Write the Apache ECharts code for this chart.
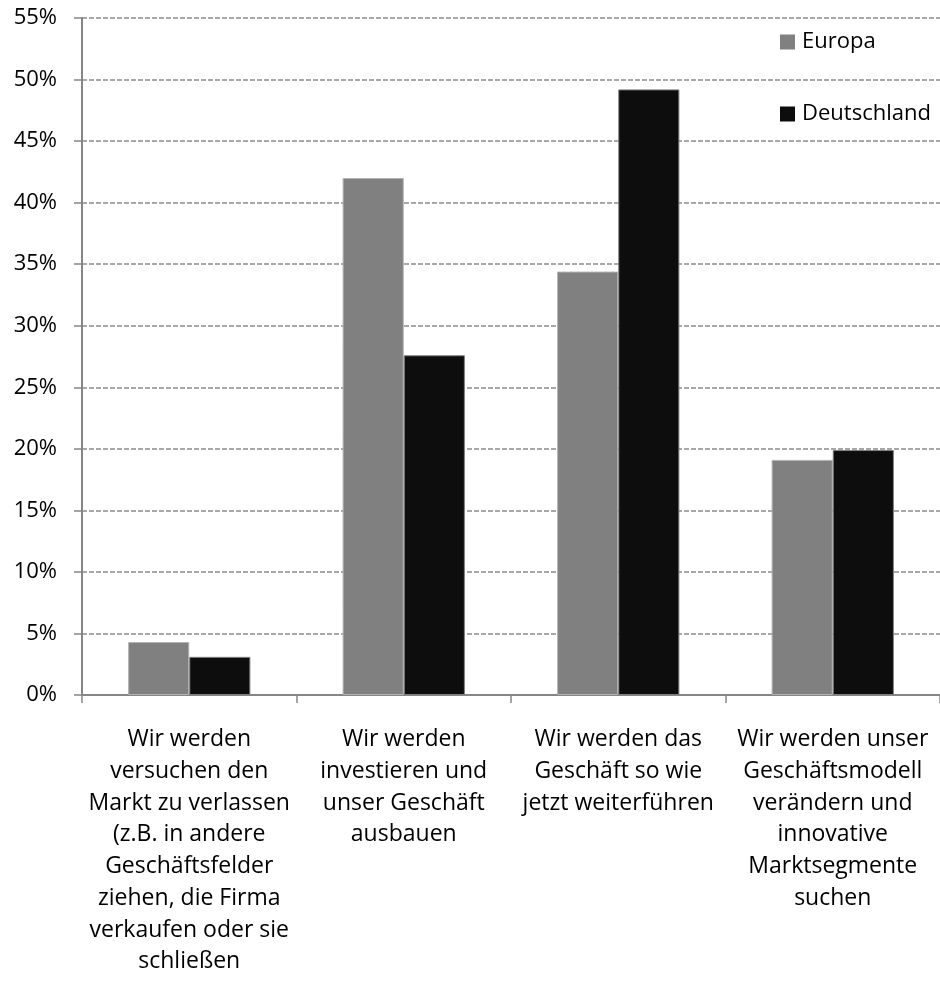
<!DOCTYPE html>
<html>
<head>
<meta charset="utf-8">
<script src="https://cdn.jsdelivr.net/npm/echarts@6/dist/echarts.min.js"></script>
<style>
  html, body { margin: 0; padding: 0; background: #fff; }
  #chart { width: 940px; height: 981px; }
</style>
</head>
<body>
<div id="chart"></div>
<script>
// Survey answers: what companies plan to do next
const categories = [
  'Wir werden\nversuchen den\nMarkt zu verlassen\n(z.B. in andere\nGeschäftsfelder\nziehen, die Firma\nverkaufen oder sie\nschließen',
  'Wir werden\ninvestieren und\nunser Geschäft\nausbauen',
  'Wir werden das\nGeschäft so wie\njetzt weiterführen',
  'Wir werden unser\nGeschäftsmodell\nverändern und\ninnovative\nMarktsegmente\nsuchen'
];
const seriesNames = ['Europa', 'Deutschland'];
const europa = [4.3, 42.0, 34.4, 19.1];
const deutschland = [3.1, 27.6, 49.2, 19.9];

const FONT = '"Open Sans", sans-serif';
const axisGray = '#868686';

const chart = echarts.init(document.getElementById('chart'), null, { renderer: 'canvas' });
chart.setOption({
  animation: false,
  backgroundColor: '#ffffff',
  textStyle: { fontFamily: FONT },
  grid: { left: 82, right: -3, top: 18, bottom: 286, containLabel: false },
  legend: {
    data: seriesNames,
    orient: 'vertical',
    left: 780,
    top: 31,
    padding: 0,
    itemWidth: 15,
    itemHeight: 15,
    itemGap: 50,
    icon: 'rect',
    itemStyle: { borderWidth: 0 },
    textStyle: { fontFamily: FONT, fontSize: 22, color: '#000', lineHeight: 22, padding: [0, 0, 0, 2] }
  },
  xAxis: {
    type: 'category',
    data: categories,
    boundaryGap: true,
    axisLine: { lineStyle: { color: axisGray, width: 2 } },
    axisTick: { show: true, alignWithLabel: false, length: 8, lineStyle: { color: axisGray, width: 1.5 } },
    axisLabel: {
      interval: 0,
      margin: 29,
      fontFamily: FONT,
      fontSize: 23,
      lineHeight: 31.7,
      color: '#000',
      align: 'center'
    },
    splitLine: { show: false }
  },
  yAxis: {
    type: 'value',
    min: 0,
    max: 55,
    interval: 5,
    axisLine: { show: true, lineStyle: { color: axisGray, width: 2 } },
    axisTick: { show: true, length: 8, lineStyle: { color: axisGray, width: 1.5 } },
    axisLabel: {
      formatter: '{value}%',
      margin: 25,
      fontFamily: FONT,
      fontSize: 22,
      color: '#000'
    },
    splitLine: { show: true, lineStyle: { color: '#8c8c8c', width: 1.5, type: [5, 2] } }
  },
  series: [
    {
      name: seriesNames[0],
      type: 'bar',
      data: europa,
      barGap: '0%',
      barCategoryGap: '43%',
      itemStyle: { color: '#808080', borderColor: '#b3b3b3', borderWidth: 1 }
    },
    {
      name: seriesNames[1],
      type: 'bar',
      data: deutschland,
      barGap: '0%',
      barCategoryGap: '43%',
      itemStyle: { color: '#0d0d0d', borderColor: '#7f7f7f', borderWidth: 1 }
    }
  ]
});
</script>
</body>
</html>
